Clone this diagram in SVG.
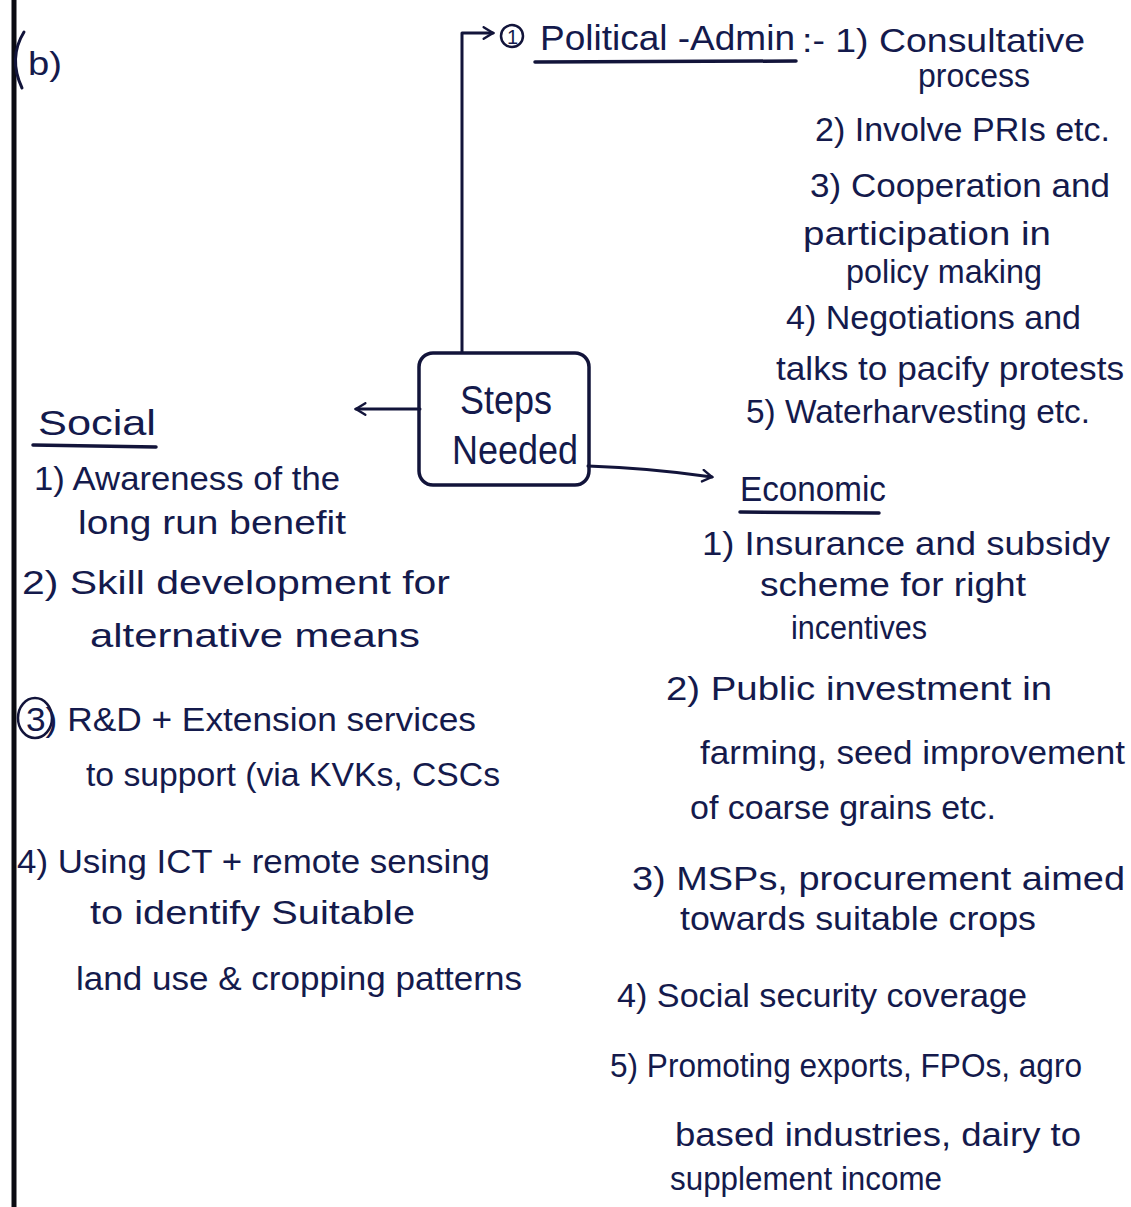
<svg xmlns="http://www.w3.org/2000/svg" width="1131" height="1207" viewBox="0 0 1131 1207">
  <defs>
    <style>
      .t { font-family: "Liberation Sans", "DejaVu Sans", sans-serif; font-size: 33px; fill: #141a4c; }
      .h { font-size: 35px; }
      .box { font-size: 40px; }
      .ink { fill: none; stroke: #12143a; stroke-width: 3; stroke-linecap: round; stroke-linejoin: round; }
      .ul { fill: none; stroke: #12143a; stroke-width: 3.5; stroke-linecap: round; }
    </style>
    <marker id="head" viewBox="0 0 12 12" refX="10" refY="6" markerWidth="14" markerHeight="14" markerUnits="userSpaceOnUse" orient="auto">
      <path d="M2,1 L10,6 L2,11" fill="none" stroke="#12143a" stroke-width="2" stroke-linecap="round"/>
    </marker>
  </defs>

  <rect width="1131" height="1207" fill="#ffffff"/>

  <!-- page margin rule -->
  <line x1="14" y1="0" x2="14" y2="1207" stroke="#0b0b12" stroke-width="5"/>

  <!-- section mark -->
  <g id="section-label">
    <path class="ink" d="M24,32 Q8,58 22,88"/>
    <text class="t" x="28" y="75" textLength="34" lengthAdjust="spacingAndGlyphs">b)</text>
  </g>

  <!-- connectors -->
  <g id="connectors">
    <polyline class="ink" points="462,352 462,33 493,33" marker-end="url(#head)"/>
    <line class="ink" x1="420" y1="409" x2="356" y2="409" marker-end="url(#head)"/>
    <path class="ink" d="M588,466 Q650,468 712,477" marker-end="url(#head)"/>
  </g>

  <!-- central node -->
  <g id="steps-needed">
    <rect x="419" y="353" width="170" height="132" rx="14" fill="none" stroke="#12143a" stroke-width="3.5"/>
    <text class="t box" x="460" y="414" textLength="92" lengthAdjust="spacingAndGlyphs">Steps</text>
    <text class="t box" x="452" y="464" textLength="126" lengthAdjust="spacingAndGlyphs">Needed</text>
  </g>

  <!-- political / administrative branch -->
  <g id="political-admin">
    <circle cx="512" cy="36" r="11" fill="none" stroke="#12143a" stroke-width="2.5"/>
    <text class="t" x="507" y="44" style="font-size:20px">1</text>
    <text class="t h" x="540" y="50" textLength="255" lengthAdjust="spacingAndGlyphs">Political -Admin</text>
    <line class="ul" x1="535" y1="62" x2="796" y2="61"/>
    <text class="t" x="802" y="52" textLength="283" lengthAdjust="spacingAndGlyphs">:- 1) Consultative</text>
    <text class="t" x="918" y="87" textLength="112" lengthAdjust="spacingAndGlyphs">process</text>
    <text class="t" x="815" y="141" textLength="295" lengthAdjust="spacingAndGlyphs">2) Involve PRIs etc.</text>
    <text class="t" x="810" y="197" textLength="300" lengthAdjust="spacingAndGlyphs">3) Cooperation and</text>
    <text class="t" x="803" y="245" textLength="248" lengthAdjust="spacingAndGlyphs">participation in</text>
    <text class="t" x="846" y="283" textLength="196" lengthAdjust="spacingAndGlyphs">policy making</text>
    <text class="t" x="786" y="329" textLength="295" lengthAdjust="spacingAndGlyphs">4) Negotiations and</text>
    <text class="t" x="776" y="380" textLength="348" lengthAdjust="spacingAndGlyphs">talks to pacify protests</text>
    <text class="t" x="746" y="423" textLength="344" lengthAdjust="spacingAndGlyphs">5) Waterharvesting etc.</text>
  </g>

  <!-- social branch -->
  <g id="social">
    <text class="t h" x="38" y="435" textLength="118" lengthAdjust="spacingAndGlyphs">Social</text>
    <line class="ul" x1="33" y1="445" x2="156" y2="447"/>
    <text class="t" x="34" y="490" textLength="306" lengthAdjust="spacingAndGlyphs">1) Awareness of the</text>
    <text class="t" x="78" y="534" textLength="268" lengthAdjust="spacingAndGlyphs">long run benefit</text>
    <text class="t" x="22" y="594" textLength="428" lengthAdjust="spacingAndGlyphs">2) Skill development for</text>
    <text class="t" x="90" y="647" textLength="330" lengthAdjust="spacingAndGlyphs">alternative means</text>
    <ellipse cx="35" cy="718" rx="17" ry="20" fill="none" stroke="#12143a" stroke-width="2.5"/>
    <text class="t" x="26" y="731" textLength="450" lengthAdjust="spacingAndGlyphs">3)  R&amp;D + Extension services</text>
    <text class="t" x="86" y="786" textLength="414" lengthAdjust="spacingAndGlyphs">to support (via KVKs, CSCs</text>
    <text class="t" x="17" y="873" textLength="473" lengthAdjust="spacingAndGlyphs">4) Using ICT + remote sensing</text>
    <text class="t" x="90" y="924" textLength="325" lengthAdjust="spacingAndGlyphs">to identify Suitable</text>
    <text class="t" x="76" y="990" textLength="446" lengthAdjust="spacingAndGlyphs">land use &amp; cropping patterns</text>
  </g>

  <!-- economic branch -->
  <g id="economic">
    <text class="t h" x="740" y="501" textLength="146" lengthAdjust="spacingAndGlyphs">Economic</text>
    <line class="ul" x1="740" y1="512" x2="879" y2="513"/>
    <text class="t" x="702" y="555" textLength="408" lengthAdjust="spacingAndGlyphs">1) Insurance and subsidy</text>
    <text class="t" x="760" y="596" textLength="266" lengthAdjust="spacingAndGlyphs">scheme for right</text>
    <text class="t" x="791" y="639" textLength="136" lengthAdjust="spacingAndGlyphs">incentives</text>
    <text class="t" x="666" y="700" textLength="386" lengthAdjust="spacingAndGlyphs">2) Public investment in</text>
    <text class="t" x="700" y="764" textLength="425" lengthAdjust="spacingAndGlyphs">farming, seed improvement</text>
    <text class="t" x="690" y="819" textLength="306" lengthAdjust="spacingAndGlyphs">of coarse grains etc.</text>
    <text class="t" x="632" y="890" textLength="493" lengthAdjust="spacingAndGlyphs">3) MSPs, procurement aimed</text>
    <text class="t" x="680" y="930" textLength="356" lengthAdjust="spacingAndGlyphs">towards suitable crops</text>
    <text class="t" x="617" y="1007" textLength="410" lengthAdjust="spacingAndGlyphs">4) Social security coverage</text>
    <text class="t" x="610" y="1077" textLength="472" lengthAdjust="spacingAndGlyphs">5) Promoting exports, FPOs, agro</text>
    <text class="t" x="675" y="1146" textLength="406" lengthAdjust="spacingAndGlyphs">based industries, dairy to</text>
    <text class="t" x="670" y="1190" textLength="272" lengthAdjust="spacingAndGlyphs">supplement income</text>
  </g>
</svg>
